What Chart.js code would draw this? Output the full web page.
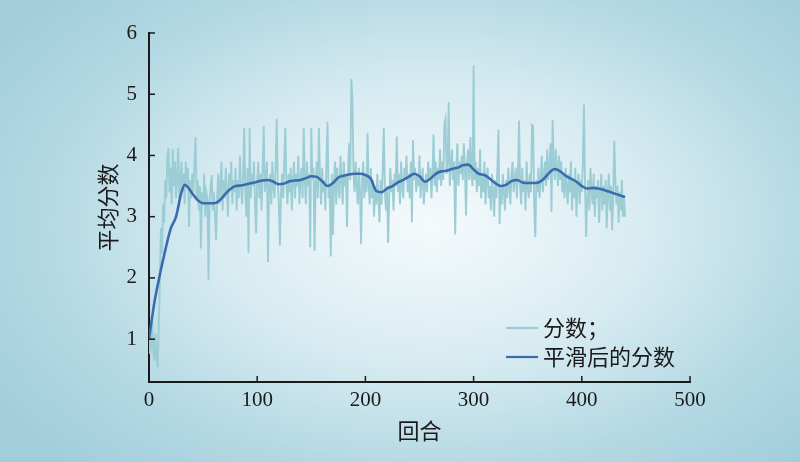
<!DOCTYPE html>
<html>
<head>
<meta charset="utf-8">
<script src="https://cdn.jsdelivr.net/npm/chart.js@4"></script>
<style>
  html, body { margin: 0; padding: 0; }
  body {
    width: 800px; height: 462px; overflow: hidden;
    background: radial-gradient(ellipse 520px 330px at 430px 225px, #f5fafc 0%, #d9ecf2 40%, #b3d8e3 75%, #a2cedb 100%);
  }
  #wrap { position: relative; width: 800px; height: 462px; }
</style>
</head>
<body>
<div id="wrap"><canvas id="scoreChart" width="800" height="462"></canvas></div>
<script>
// raw score per episode (index = episode)
const rawScores = [
  1.0, 0.76, 0.9, 1.3, 0.8, 0.65, 1.1, 0.7, 0.54, 1.2, 1.9, 2.81, 2.4, 3.2, 2.9, 3.6, 3.3, 4.0, 4.12, 3.4,
  3.8, 3.2, 4.1, 3.5, 3.9, 3.3, 3.7, 4.12, 3.3, 3.6, 3.9, 3.4, 3.7, 3.2, 3.9, 3.5, 3.8, 2.83, 3.6, 3.3,
  3.7, 3.4, 3.9, 4.3, 3.3, 3.6, 3.1, 3.5, 2.48, 3.4, 3.2, 3.7, 3.0, 3.4, 3.3, 1.96, 3.2, 3.5, 3.68, 3.1,
  3.4, 3.0, 2.62, 3.3, 3.7, 3.2, 3.5, 3.9, 3.1, 3.6, 3.3, 3.8, 3.4, 3.0, 3.7, 3.5, 3.9, 3.2, 3.6, 3.4,
  3.8, 3.1, 3.6, 3.3, 4.0, 3.5, 3.2, 3.7, 4.45, 3.4, 3.0, 3.8, 2.41, 4.45, 3.3, 3.7, 3.5, 3.9, 3.2, 2.73,
  3.6, 3.9, 3.3, 3.7, 3.1, 3.8, 4.48, 3.4, 3.6, 3.9, 2.26, 3.5, 3.7, 3.2, 3.9, 3.5, 3.3, 3.8, 4.6, 3.6,
  3.2, 2.53, 3.4, 3.7, 3.3, 3.9, 4.45, 3.5, 3.2, 3.7, 3.4, 3.8, 3.1, 3.6, 3.9, 3.3, 3.7, 3.5, 4.0, 3.2,
  3.6, 3.8, 3.3, 4.45, 3.6, 3.2, 3.9, 3.5, 3.7, 2.5, 4.45, 3.6, 3.8, 2.44, 3.5, 3.9, 3.3, 4.45, 3.7, 3.2,
  3.8, 3.4, 3.6, 3.1, 3.9, 4.55, 3.3, 3.5, 2.35, 3.7, 2.7, 3.6, 3.9, 3.2, 3.8, 3.5, 3.3, 4.0, 3.6, 3.2,
  3.9, 3.5, 3.7, 2.83, 3.8, 4.2, 3.6, 5.25, 4.9, 3.7, 3.4, 3.9, 3.5, 3.2, 3.8, 3.4, 2.55, 3.6, 3.9, 3.3,
  3.7, 3.4, 4.37, 3.5, 3.2, 3.8, 3.3, 3.6, 3.0, 3.5, 3.2, 3.7, 3.3, 2.91, 3.6, 3.2, 3.8, 4.45, 3.4, 3.1,
  3.5, 2.57, 3.3, 3.8, 3.4, 3.6, 3.1, 3.7, 3.5, 4.31, 3.4, 3.7, 3.2, 3.9, 3.5, 3.3, 3.8, 3.6, 4.0, 3.4,
  3.7, 3.3, 3.9, 2.91, 4.25, 3.6, 3.8, 3.4, 3.7, 3.5, 4.0, 3.3, 3.6, 3.8, 3.2, 3.5, 3.7, 3.4, 3.9, 3.6,
  3.8, 3.3, 3.7, 4.34, 3.5, 3.9, 3.4, 3.8, 3.6, 4.1, 3.5, 3.9, 3.6, 4.52, 4.6, 3.7, 3.9, 4.87, 3.5, 3.8,
  4.1, 3.6, 3.9, 2.71, 3.8, 4.2, 3.5, 3.9, 3.7, 4.0, 3.6, 4.2, 3.8, 3.02, 3.9, 4.1, 3.6, 4.3, 3.7, 3.5,
  5.47, 3.6, 3.9, 3.4, 3.8, 3.5, 4.1, 3.3, 3.7, 3.4, 3.9, 3.2, 3.6, 3.8, 3.3, 3.5, 3.1, 3.7, 3.4, 3.0,
  3.6, 3.3, 3.8, 4.42, 2.88, 3.5, 3.2, 3.7, 3.4, 3.1, 3.6, 3.3, 3.8, 3.5, 3.2, 3.7, 3.9, 3.4, 3.6, 3.8,
  3.3, 3.7, 4.57, 3.5, 3.2, 3.8, 3.4, 3.6, 3.1, 3.9, 3.5, 3.3, 3.7, 3.4, 4.5, 4.48, 3.2, 2.67, 3.6, 3.4,
  3.8, 3.3, 3.6, 4.0, 3.4, 3.7, 3.9, 3.5, 4.1, 3.6, 3.8, 4.2, 3.08, 4.58, 3.9, 3.6, 4.1, 3.8, 3.5, 4.0,
  3.6, 3.9, 3.4, 3.7, 3.3, 3.8, 3.5, 3.2, 3.7, 3.4, 3.9, 3.1, 3.6, 3.3, 3.8, 3.0, 3.5, 3.7, 3.2, 3.6,
  3.4, 3.9, 4.83, 3.5, 2.67, 3.3, 3.6, 3.1, 3.8, 3.4, 3.2, 3.7, 3.0, 3.5, 3.3, 3.6, 2.9, 3.4, 3.7, 3.1,
  3.5, 3.2, 3.6, 2.81, 3.4, 3.7, 3.1, 3.5, 2.78, 3.3, 4.24, 3.6, 3.2, 3.5, 2.9, 3.4, 3.1, 3.6, 3.0, 3.3, 3.0
];

// smoothed curve, sampled every 5 episodes
const smoothEpisodes = [
  0, 5, 10, 15, 20, 25, 30, 33, 35, 40, 45, 50, 55, 60, 65, 70, 75, 80, 85, 90, 95,
  100, 105, 110, 115, 120, 125, 130, 135, 140, 145, 150, 155, 160, 165, 170, 175, 180, 185, 190, 195,
  200, 205, 210, 215, 220, 225, 230, 235, 240, 245, 250, 255, 260, 265, 270, 275, 280, 285, 290, 295,
  300, 305, 310, 315, 320, 325, 330, 335, 340, 345, 350, 355, 360, 365, 370, 375, 380, 385, 390, 395,
  400, 405, 410, 415, 420, 425, 430, 435, 440
];
const smoothScores = [
  1.0, 1.6, 2.05, 2.45, 2.8, 3.0, 3.4, 3.52, 3.5, 3.38, 3.27, 3.22, 3.22, 3.22, 3.26, 3.36, 3.45, 3.5, 3.51, 3.53, 3.55,
  3.57, 3.59, 3.6, 3.57, 3.53, 3.54, 3.58, 3.59, 3.6, 3.63, 3.66, 3.65, 3.58, 3.5, 3.55, 3.64, 3.67, 3.69, 3.7, 3.7,
  3.68, 3.62, 3.42, 3.4, 3.46, 3.5, 3.56, 3.6, 3.65, 3.7, 3.66, 3.57, 3.62, 3.7, 3.74, 3.75, 3.78, 3.8, 3.84, 3.85,
  3.77, 3.7, 3.68, 3.62, 3.55, 3.5, 3.52, 3.58, 3.6, 3.56, 3.55, 3.55, 3.56, 3.62, 3.72, 3.78, 3.74, 3.67, 3.62, 3.57,
  3.5, 3.46, 3.47, 3.46, 3.44, 3.41, 3.38, 3.35, 3.32
];

const xTicks = [0, 100, 200, 300, 400, 500];
const yTicks = [1, 2, 3, 4, 5, 6];
const seriesNames = ['分数；', '平滑后的分数'];
const seriesColors = ['#9ccdd5', '#3a6cad'];

const fontFam = '"Liberation Serif", "Times New Roman", "Noto Sans CJK SC", serif';
const cjkFam = '"Noto Sans CJK SC", "Liberation Serif", serif';

// ticks drawn inside the plot, plus the small legend in the lower right
const innerTicks = {
  id: 'innerTicks',
  afterDraw(chart) {
    const ctx = chart.ctx;
    const xs = chart.scales.x, ys = chart.scales.y;
    const a = chart.chartArea;
    ctx.save();
    ctx.strokeStyle = '#1a1a1a';
    ctx.lineWidth = 1.5;
    xTicks.forEach(v => {
      const px = xs.getPixelForValue(v);
      ctx.beginPath(); ctx.moveTo(px, a.bottom); ctx.lineTo(px, a.bottom - 6); ctx.stroke();
    });
    yTicks.forEach(v => {
      const py = ys.getPixelForValue(v);
      ctx.beginPath(); ctx.moveTo(a.left, py); ctx.lineTo(a.left + 6, py); ctx.stroke();
    });

    // legend
    ctx.font = '22px ' + cjkFam;
    ctx.textBaseline = 'middle';
    seriesNames.forEach((name, i) => {
      const y = 328 + i * 29;
      ctx.strokeStyle = seriesColors[i];
      ctx.lineWidth = 2.2;
      ctx.beginPath(); ctx.moveTo(506, y); ctx.lineTo(538, y); ctx.stroke();
      ctx.fillStyle = '#1a1a1a';
      ctx.fillText(name, 543, y);
    });
    ctx.restore();
  }
};

new Chart(document.getElementById('scoreChart'), {
  type: 'line',
  data: {
    datasets: [
      {
        label: seriesNames[0],
        data: rawScores.map((v, i) => ({ x: i, y: v })),
        borderColor: seriesColors[0],
        borderWidth: 1.9,
        pointRadius: 0,
        tension: 0,
        order: 2
      },
      {
        label: seriesNames[1],
        data: smoothEpisodes.map((e, i) => ({ x: e, y: smoothScores[i] })),
        borderColor: seriesColors[1],
        borderWidth: 2.6,
        pointRadius: 0,
        cubicInterpolationMode: 'monotone',
        order: 1
      }
    ]
  },
  options: {
    responsive: false,
    animation: false,
    layout: { padding: { top: 33, right: 110, left: 90, bottom: 14 } },
    plugins: {
      legend: { display: false },
      tooltip: { enabled: false }
    },
    scales: {
      x: {
        type: 'linear',
        min: 0, max: 500,
        afterBuildTicks: s => { s.ticks = xTicks.map(v => ({ value: v })); },
        afterFit: s => { s.height = 66; },
        grid: { display: false, drawTicks: false },
        border: { display: true, color: '#1a1a1a', width: 2 },
        ticks: { color: '#1a1a1a', font: { family: fontFam, size: 21 }, padding: 6, maxRotation: 0 },
        title: { display: true, text: '回合', color: '#1a1a1a', font: { family: cjkFam, size: 22 }, padding: { top: 2 } }
      },
      y: {
        min: 0.3, max: 6,
        afterBuildTicks: s => { s.ticks = yTicks.map(v => ({ value: v })); },
        afterFit: s => { s.width = 59; },
        grid: { display: false, drawTicks: false },
        border: { display: true, color: '#1a1a1a', width: 2 },
        ticks: { color: '#1a1a1a', font: { family: fontFam, size: 21 }, padding: 12 },
        title: { display: true, text: '平均分数', color: '#1a1a1a', font: { family: cjkFam, size: 22 }, padding: { bottom: 4 } }
      }
    }
  },
  plugins: [innerTicks]
});
</script>
</body>
</html>
